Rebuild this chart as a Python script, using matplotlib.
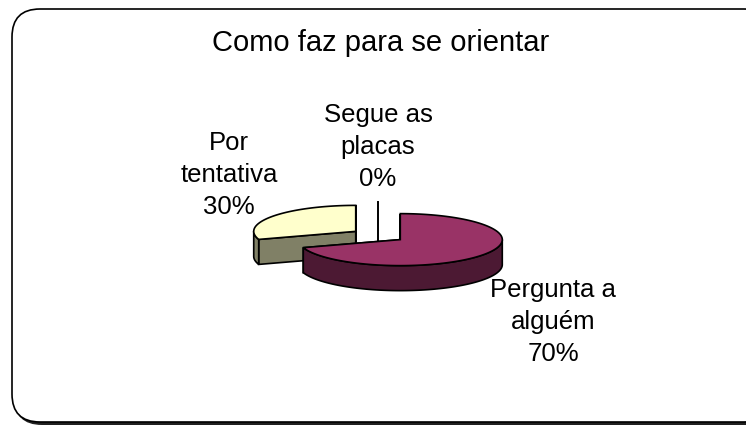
import numpy as np
import matplotlib
matplotlib.use('Agg')
import matplotlib.pyplot as plt
from matplotlib.patches import Polygon, FancyBboxPatch

plt.rcParams['font.family'] = ['Liberation Sans', 'DejaVu Sans']

# data
title = 'Como faz para se orientar'
categories = ['Pergunta a\nalguém', 'Por\ntentativa', 'Segue as\nplacas']
values = [70, 30, 0]
top_colors = ['#993366', '#FFFFCC', '#FFFFFF']
side_colors = ['#4C1933', '#808066', '#808080']
label_xy = [(553, 322), (229, 175), (378, 147)]

# pie geometry in pixels
cx, cy = 378, 235.5
a, b = 102, 26      # ellipse radii of the top face
h = 25              # thickness
explode = 0.27

fig = plt.figure(figsize=(7.46, 4.25), dpi=100)
ax = fig.add_axes([0, 0, 1, 1])
ax.set_xlim(0, 746)
ax.set_ylim(425, 0)
ax.axis('off')

# rounded frame with a small shadow (runs off the right edge)
ax.add_patch(FancyBboxPatch((14, 12), 760, 413, boxstyle='round,pad=0,rounding_size=28',
                            fc='#202020', ec='none', zorder=0))
ax.add_patch(FancyBboxPatch((12, 9), 760, 413, boxstyle='round,pad=0,rounding_size=28',
                            fc='white', ec='black', lw=1.2, zorder=0.5))

ax.text(381, 51, title, ha='center', va='baseline', fontsize=21)


def pt(c, th, dy=0):
    return (c[0] + a * np.sin(th), c[1] - b * np.cos(th) + dy)


total = sum(values)
slices = []
start = 0
for i, v in enumerate(values):
    th0 = start / total * 2 * np.pi
    th1 = (start + v) / total * 2 * np.pi
    mid = (th0 + th1) / 2
    c = (cx + explode * a * np.sin(mid), cy - explode * b * np.cos(mid))
    slices.append((c[1], i, th0, th1, c))
    start += v

z = 1
for _, i, th0, th1, c in sorted(slices):
    ec = 'black'
    if values[i] == 0:
        r = pt(c, th0)
        ax.plot([r[0], c[0], c[0]], [r[1], c[1], c[1] + h], color=ec, lw=1.4, zorder=z)
        z += 1
        continue
    # radial faces
    for th in (th0, th1):
        r = pt(c, th)
        ax.add_patch(Polygon([c, r, (r[0], r[1] + h), (c[0], c[1] + h)],
                             fc=side_colors[i], ec=ec, lw=1.2, zorder=z))
        z += 1
    # outer side, front part only
    lo, hi = max(th0, np.pi / 2), min(th1, 3 * np.pi / 2)
    if hi > lo:
        t = np.linspace(lo, hi, 200)
        upper = [pt(c, x) for x in t]
        lower = [pt(c, x, h) for x in t[::-1]]
        ax.add_patch(Polygon(upper + lower, fc=side_colors[i], ec=ec, lw=1.2, zorder=z))
        z += 1
    # top face
    t = np.linspace(th0, th1, 300)
    ax.add_patch(Polygon([c] + [pt(c, x) for x in t], fc=top_colors[i], ec=ec, lw=1.2,
                         zorder=z))
    z += 1

for i, (x, y) in enumerate(label_xy):
    ax.text(x, y, f'{categories[i]}\n{values[i]}%', ha='center', va='center',
            multialignment='center', fontsize=18.5, linespacing=1.42, zorder=z)

fig.savefig('out.png', dpi=100)
